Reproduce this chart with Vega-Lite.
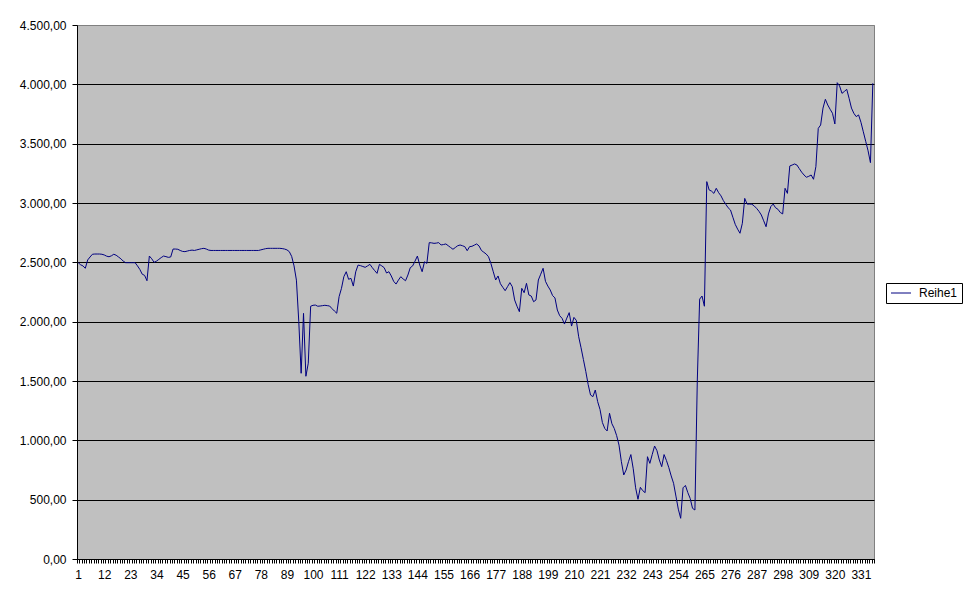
{
"$schema": "https://vega.github.io/schema/vega-lite/v6.json",
"width": 797,
"height": 534,
"autosize": {"type": "none"},
"padding": {"left": 77, "top": 25, "right": 96, "bottom": 45},
"background": "white",
"config": {"view": {"fill": "#C0C0C0", "stroke": "#808080", "strokeWidth": 1}, "font": "Liberation Sans"},
"data": {"values": [
{"i":1,"value":2497},{"i":2,"value":2480},{"i":3,"value":2470},{"i":4,"value":2450},{"i":5,"value":2520},{"i":6,"value":2545},{"i":7,"value":2568},{"i":8,"value":2570},{"i":9,"value":2570},{"i":10,"value":2570},
{"i":11,"value":2568},{"i":12,"value":2562},{"i":13,"value":2552},{"i":14,"value":2547},{"i":15,"value":2555},{"i":16,"value":2568},{"i":17,"value":2560},{"i":18,"value":2545},{"i":19,"value":2530},{"i":20,"value":2510},
{"i":21,"value":2497},{"i":22,"value":2497},{"i":23,"value":2497},{"i":24,"value":2497},{"i":25,"value":2497},{"i":26,"value":2470},{"i":27,"value":2440},{"i":28,"value":2400},{"i":29,"value":2390},{"i":30,"value":2345},
{"i":31,"value":2553},{"i":32,"value":2530},{"i":33,"value":2500},{"i":34,"value":2510},{"i":35,"value":2525},{"i":36,"value":2540},{"i":37,"value":2553},{"i":38,"value":2548},{"i":39,"value":2542},{"i":40,"value":2545},
{"i":41,"value":2612},{"i":42,"value":2612},{"i":43,"value":2610},{"i":44,"value":2600},{"i":45,"value":2592},{"i":46,"value":2590},{"i":47,"value":2595},{"i":48,"value":2600},{"i":49,"value":2603},{"i":50,"value":2600},
{"i":51,"value":2605},{"i":52,"value":2610},{"i":53,"value":2615},{"i":54,"value":2618},{"i":55,"value":2612},{"i":56,"value":2603},{"i":57,"value":2600},{"i":58,"value":2600},{"i":59,"value":2600},{"i":60,"value":2600},
{"i":61,"value":2600},{"i":62,"value":2600},{"i":63,"value":2600},{"i":64,"value":2600},{"i":65,"value":2600},{"i":66,"value":2600},{"i":67,"value":2600},{"i":68,"value":2600},{"i":69,"value":2600},{"i":70,"value":2600},
{"i":71,"value":2600},{"i":72,"value":2600},{"i":73,"value":2600},{"i":74,"value":2600},{"i":75,"value":2600},{"i":76,"value":2600},{"i":77,"value":2600},{"i":78,"value":2605},{"i":79,"value":2610},{"i":80,"value":2615},
{"i":81,"value":2618},{"i":82,"value":2618},{"i":83,"value":2618},{"i":84,"value":2618},{"i":85,"value":2618},{"i":86,"value":2618},{"i":87,"value":2616},{"i":88,"value":2612},{"i":89,"value":2605},{"i":90,"value":2590},
{"i":91,"value":2550},{"i":92,"value":2470},{"i":93,"value":2350},{"i":94,"value":2000},{"i":95,"value":1565},{"i":96,"value":2070},{"i":97,"value":1540},{"i":98,"value":1650},{"i":99,"value":2130},{"i":100,"value":2138},
{"i":101,"value":2140},{"i":102,"value":2130},{"i":103,"value":2132},{"i":104,"value":2135},{"i":105,"value":2138},{"i":106,"value":2135},{"i":107,"value":2132},{"i":108,"value":2110},{"i":109,"value":2090},{"i":110,"value":2071},
{"i":111,"value":2211},{"i":112,"value":2281},{"i":113,"value":2379},{"i":114,"value":2421},{"i":115,"value":2357},{"i":116,"value":2365},{"i":117,"value":2300},{"i":118,"value":2420},{"i":119,"value":2477},{"i":120,"value":2472},
{"i":121,"value":2465},{"i":122,"value":2458},{"i":123,"value":2470},{"i":124,"value":2483},{"i":125,"value":2455},{"i":126,"value":2430},{"i":127,"value":2407},{"i":128,"value":2483},{"i":129,"value":2470},{"i":130,"value":2455},
{"i":131,"value":2410},{"i":132,"value":2421},{"i":133,"value":2385},{"i":134,"value":2340},{"i":135,"value":2317},{"i":136,"value":2350},{"i":137,"value":2379},{"i":138,"value":2360},{"i":139,"value":2345},{"i":140,"value":2393},
{"i":141,"value":2455},{"i":142,"value":2470},{"i":143,"value":2510},{"i":144,"value":2553},{"i":145,"value":2477},{"i":146,"value":2421},{"i":147,"value":2505},{"i":148,"value":2491},{"i":149,"value":2666},{"i":150,"value":2664},
{"i":151,"value":2660},{"i":152,"value":2662},{"i":153,"value":2666},{"i":154,"value":2646},{"i":155,"value":2650},{"i":156,"value":2655},{"i":157,"value":2640},{"i":158,"value":2625},{"i":159,"value":2610},{"i":160,"value":2625},
{"i":161,"value":2640},{"i":162,"value":2646},{"i":163,"value":2640},{"i":164,"value":2632},{"i":165,"value":2598},{"i":166,"value":2632},{"i":167,"value":2635},{"i":168,"value":2645},{"i":169,"value":2655},{"i":170,"value":2638},
{"i":171,"value":2600},{"i":172,"value":2585},{"i":173,"value":2570},{"i":174,"value":2547},{"i":175,"value":2490},{"i":176,"value":2420},{"i":177,"value":2351},{"i":178,"value":2385},{"i":179,"value":2320},{"i":180,"value":2290},
{"i":181,"value":2261},{"i":182,"value":2295},{"i":183,"value":2329},{"i":184,"value":2295},{"i":185,"value":2183},{"i":186,"value":2130},{"i":187,"value":2084},{"i":188,"value":2281},{"i":189,"value":2244},{"i":190,"value":2323},
{"i":191,"value":2225},{"i":192,"value":2216},{"i":193,"value":2168},{"i":194,"value":2183},{"i":195,"value":2351},{"i":196,"value":2400},{"i":197,"value":2450},{"i":198,"value":2340},{"i":199,"value":2300},{"i":200,"value":2267},
{"i":201,"value":2220},{"i":202,"value":2200},{"i":203,"value":2098},{"i":204,"value":2050},{"i":205,"value":2028},{"i":206,"value":1980},{"i":207,"value":2030},{"i":208,"value":2076},{"i":209,"value":1963},{"i":210,"value":2036},
{"i":211,"value":2011},{"i":212,"value":1873},{"i":213,"value":1780},{"i":214,"value":1680},{"i":215,"value":1580},{"i":216,"value":1470},{"i":217,"value":1382},{"i":218,"value":1368},{"i":219,"value":1424},{"i":220,"value":1326},
{"i":221,"value":1260},{"i":222,"value":1150},{"i":223,"value":1100},{"i":224,"value":1079},{"i":225,"value":1228},{"i":226,"value":1140},{"i":227,"value":1100},{"i":228,"value":1040},{"i":229,"value":960},{"i":230,"value":820},
{"i":231,"value":708},{"i":232,"value":750},{"i":233,"value":820},{"i":234,"value":880},{"i":235,"value":760},{"i":236,"value":600},{"i":237,"value":503},{"i":238,"value":604},{"i":239,"value":576},{"i":240,"value":559},
{"i":241,"value":862},{"i":242,"value":806},{"i":243,"value":880},{"i":244,"value":952},{"i":245,"value":913},{"i":246,"value":834},{"i":247,"value":778},{"i":248,"value":880},{"i":249,"value":830},{"i":250,"value":770},
{"i":251,"value":700},{"i":252,"value":638},{"i":253,"value":530},{"i":254,"value":420},{"i":255,"value":343},{"i":256,"value":600},{"i":257,"value":620},{"i":258,"value":560},{"i":259,"value":511},{"i":260,"value":427},
{"i":261,"value":413},{"i":262,"value":1500},{"i":263,"value":2190},{"i":264,"value":2216},{"i":265,"value":2130},{"i":266,"value":3180},{"i":267,"value":3110},{"i":268,"value":3100},{"i":269,"value":3081},{"i":270,"value":3124},
{"i":271,"value":3087},{"i":272,"value":3060},{"i":273,"value":3020},{"i":274,"value":2990},{"i":275,"value":2960},{"i":276,"value":2941},{"i":277,"value":2880},{"i":278,"value":2820},{"i":279,"value":2780},{"i":280,"value":2745},
{"i":281,"value":2829},{"i":282,"value":3039},{"i":283,"value":2991},{"i":284,"value":2991},{"i":285,"value":2990},{"i":286,"value":2975},{"i":287,"value":2955},{"i":288,"value":2930},{"i":289,"value":2899},{"i":290,"value":2850},
{"i":291,"value":2800},{"i":292,"value":2908},{"i":293,"value":2970},{"i":294,"value":2991},{"i":295,"value":2960},{"i":296,"value":2947},{"i":297,"value":2920},{"i":298,"value":2908},{"i":299,"value":3124},{"i":300,"value":3081},
{"i":301,"value":3312},{"i":302,"value":3320},{"i":303,"value":3329},{"i":304,"value":3320},{"i":305,"value":3290},{"i":306,"value":3260},{"i":307,"value":3236},{"i":308,"value":3217},{"i":309,"value":3225},{"i":310,"value":3236},
{"i":311,"value":3200},{"i":312,"value":3306},{"i":313,"value":3629},{"i":314,"value":3657},{"i":315,"value":3800},{"i":316,"value":3874},{"i":317,"value":3826},{"i":318,"value":3790},{"i":319,"value":3756},{"i":320,"value":3666},
{"i":321,"value":4014},{"i":322,"value":3986},{"i":323,"value":3924},{"i":324,"value":3940},{"i":325,"value":3958},{"i":326,"value":3882},{"i":327,"value":3800},{"i":328,"value":3756},{"i":329,"value":3728},{"i":330,"value":3742},
{"i":331,"value":3680},{"i":332,"value":3600},{"i":333,"value":3520},{"i":334,"value":3440},{"i":335,"value":3340},{"i":336,"value":4009}
]},
"mark": {"type": "line", "strokeWidth": 1, "interpolate": "linear"},
"encoding": {
  "x": {
    "field": "i", "type": "ordinal", "bandPosition": 0.5,
    "scale": {"type": "band", "paddingInner": 0, "paddingOuter": 0},
    "axis": {
      "title": null, "labelAngle": 0, "tickBand": "extent", "tickSize": 4, "tickColor": "black",
      "domainColor": "black", "labelColor": "black", "labelFontSize": 12, "labelPadding": 6,
      "labelOverlap": false, "grid": false,
      "labelExpr": "(toNumber(datum.value) - 1) % 11 === 0 ? datum.label : ''"
    }
  },
  "y": {
    "field": "value", "type": "quantitative",
    "scale": {"domain": [0, 4500], "nice": false},
    "axis": {
      "title": null, "values": [0, 500, 1000, 1500, 2000, 2500, 3000, 3500, 4000, 4500],
      "tickSize": 5, "labelPadding": 6, "labelFontSize": 12, "labelColor": "black",
      "tickColor": "black", "domainColor": "black", "grid": true,
      "gridColor": {"condition": {"test": "datum.value === 4500", "value": "#808080"}, "value": "black"},
      "gridOpacity": 1,
      "labelExpr": "replace(replace(replace(format(datum.value, ',.2f'), ',', ';'), '.', ','), ';', '.')"
    }
  },
  "color": {
    "datum": "Reihe1",
    "scale": {"range": ["#000080"]},
    "legend": {
      "title": null, "orient": "none", "legendX": 809, "legendY": 258,
      "symbolType": "M-1,0H3", "symbolSize": 100, "symbolStrokeWidth": 1, "symbolFillColor": "transparent",
      "strokeColor": "black", "fillColor": "white", "padding": 4, "cornerRadius": 0,
      "labelFontSize": 12, "labelColor": "black", "labelOffset": 17
    }
  }
}
}
